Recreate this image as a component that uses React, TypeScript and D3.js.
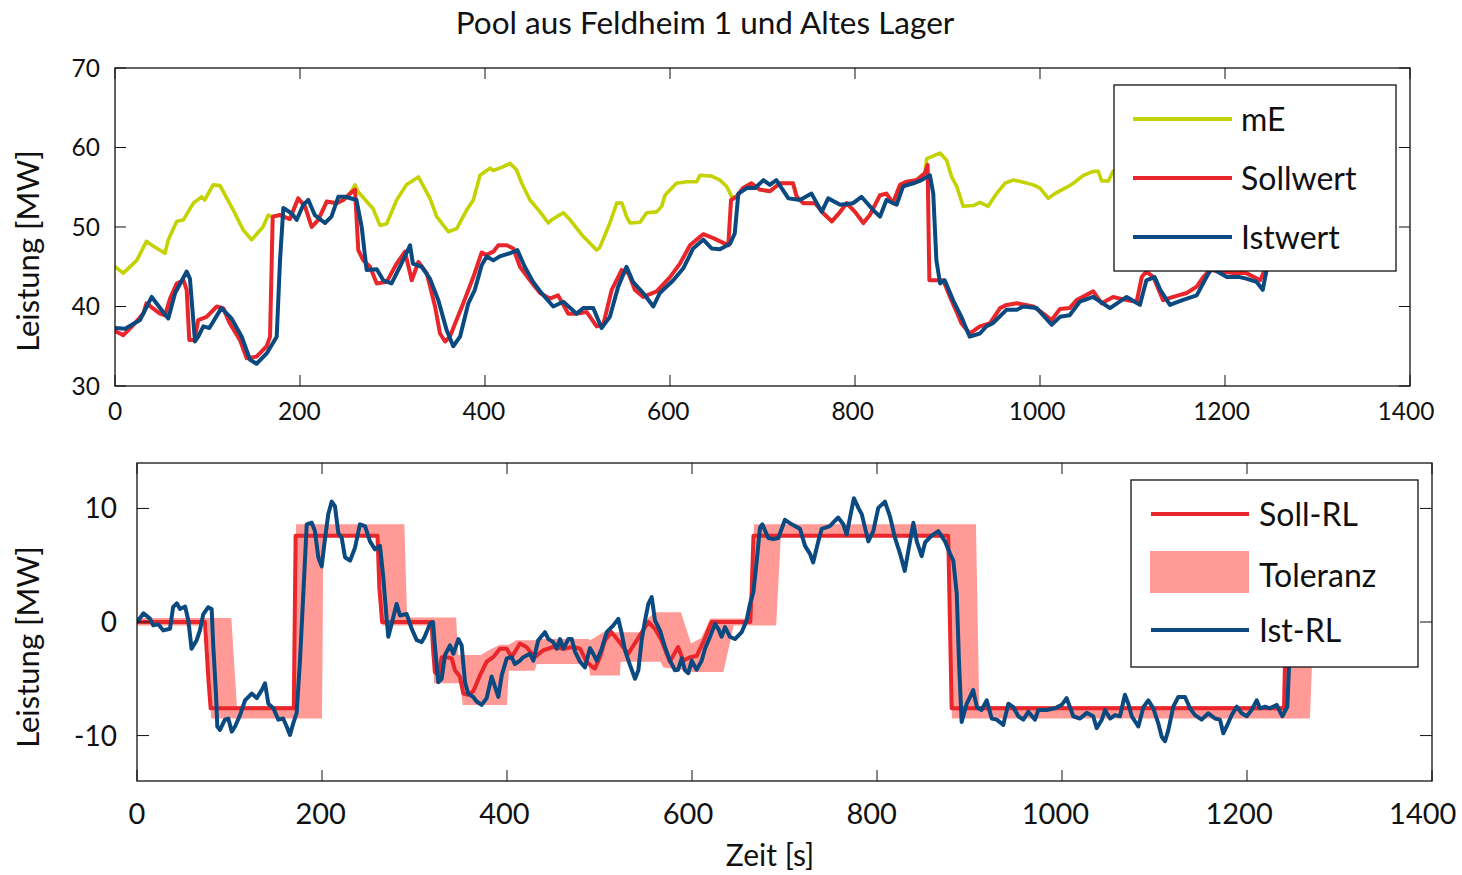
import React from 'react';
import * as d3 from 'd3';

const chartTitle = 'Pool aus Feldheim 1 und Altes Lager';
const yLabel = 'Leistung [MW]';
const xLabel = 'Zeit [s]';
const xTicks = [0, 200, 400, 600, 800, 1000, 1200, 1400];
const topYTicks = [30, 40, 50, 60, 70];
const botYTicks = [-10, 0, 10];
const topLegend = ['mE', 'Sollwert', 'Istwert'];
const botLegend = ['Soll-RL', 'Toleranz', 'Ist-RL'];

// top chart: [time s, MW]
const mE: [number, number][] = [
  [0,45.0],[9,44.2],[23.5,45.8],[34,48.2],[40,47.7],[54,46.7],[57.6,48.4],[66.7,50.7],[74,50.9],[84.7,53.0],[93.7,53.8],[97,53.4],[106,55.3],[113.5,55.2],[128,52.1],[138.7,49.6],[147.7,48.4],[160,50.0],[165.7,51.5],[170.5,51.3],[178.4,51.5],[189,51.0],[198,53.6],[205.4,52.6],[212.6,50.0],[219.8,50.9],[228.9,53.2],[239.7,53.0],[246.8,53.4],[254,54.2],[259.5,55.3],[263,54.4],[279,52.3],[286.5,50.2],[293.7,50.4],[304.5,53.4],[315,55.3],[328,56.3],[340.5,53.6],[347.8,51.3],[360.3,49.4],[369.4,49.8],[380,52.1],[387.4,53.4],[394.6,56.5],[405.4,57.4],[409,57.1],[418,57.5],[427,58.0],[434,57.2],[439.7,55.5],[448.6,53.4],[459.5,51.9],[468.5,50.5],[472,50.9],[484.7,51.8],[492,50.9],[506.3,48.8],[520.7,47.1],[524,47.4],[535,50.5],[542.4,53.0],[548,53.0],[553,51.3],[556.8,50.5],[567.6,50.6],[574.8,51.8],[585.6,51.9],[591,52.6],[594.6,54.0],[607,55.5],[618,55.7],[628.9,55.7],[632.4,56.5],[645,56.4],[654,55.9],[661.3,55.1],[666.7,53.8],[672,53.8],[679,54.9],[688,55.5],[697,54.7],[708,54.5],[719,55.5],[733,55.5],[737,53.8],[744,53.0],[757,53.0],[766,51.7],[775,50.7],[784,51.9],[791,53.0],[800,51.9],[809,50.5],[816,51.5],[827,54.0],[834,54.2],[841,53.0],[848.6,55.3],[856,55.7],[866.7,55.9],[875.7,56.8],[877.5,58.6],[892,59.3],[899,58.4],[904.5,56.3],[910,55.1],[917,52.6],[928,52.7],[935,53.1],[944,52.6],[953,54.2],[962,55.5],[971,55.9],[980,55.7],[992.8,55.3],[1000,54.9],[1009,53.6],[1016,54.2],[1030.6,55.1],[1036,55.5],[1047,56.5],[1057.6,57.0],[1063,57.0],[1066.7,55.8],[1074,55.8],[1079,57.0],[1082,57.2]
];

const sollwert: [number, number][] = [
  [0,37.0],[2,36.8],[9,36.4],[20,37.7],[30.6,39.1],[34,40.4],[48.6,39.1],[54,38.9],[59.5,41.0],[66.7,42.9],[74,43.3],[77.5,42.1],[80.3,35.8],[86,35.8],[90,38.3],[99,38.7],[110,40.0],[117,39.8],[124,37.9],[135,35.8],[142.4,33.5],[153,33.7],[164,35.0],[167.6,36.2],[170.5,51.3],[178.4,51.5],[189,51.0],[198,53.6],[205.4,52.6],[212.6,50.0],[219.8,50.9],[228.9,53.2],[239.7,53.0],[246.8,53.4],[254,54.2],[259.5,54.7],[263,47.1],[268.4,45.8],[275.7,45.0],[283,42.9],[293.7,43.1],[304.5,45.4],[313.5,46.9],[320.8,43.3],[328,45.6],[337,44.2],[346,40.0],[351.4,36.6],[356.8,35.6],[362,36.2],[376.5,40.4],[387.4,43.7],[396.4,46.8],[401.8,46.5],[409,46.9],[414.4,47.7],[423.5,47.7],[430.6,47.3],[437.8,45.0],[448.6,43.3],[459.5,41.7],[470,41.0],[479,41.4],[490,39.1],[498.4,39.1],[510,39.3],[520.7,37.5],[528,37.8],[537,42.1],[547.8,44.6],[555,44.2],[562,42.1],[571,41.2],[585.6,41.9],[600,43.7],[610.8,45.4],[621.6,47.7],[636,49.1],[646.8,48.6],[657.6,48.0],[663,47.7],[666,53.4],[672,53.8],[679,54.9],[688,55.5],[697,54.7],[708,54.5],[719,55.5],[733,55.5],[737,53.8],[744,53.0],[757,53.0],[766,51.7],[775,50.7],[784,51.9],[791,53.0],[800,51.9],[809,50.5],[816,51.5],[827,54.0],[834,54.2],[841,53.0],[848.6,55.3],[856,55.7],[866.7,55.9],[875.7,56.8],[878.5,57.8],[880.4,43.3],[895.5,43.3],[902.7,41.2],[910,39.3],[915,37.9],[924,36.6],[935,37.5],[946,37.9],[956.8,39.8],[964,40.2],[975,40.4],[992.8,40.0],[1003.6,39.1],[1012.6,38.3],[1021.6,39.7],[1032,39.8],[1039.6,40.8],[1057.6,41.9],[1066.7,40.4],[1079,41.2],[1093.7,40.8],[1104.5,40.6],[1110,43.7],[1115,44.4],[1122.5,43.7],[1133,40.8],[1144,41.2],[1158.6,41.7],[1169.4,42.5],[1176.5,43.7],[1183.8,44.6],[1209,44.2],[1223,44.2],[1238,43.3],[1243,44.6],[1246,47.0]
];

const istwert: [number, number][] = [
  [0,37.3],[11,37.2],[27,38.3],[39.7,41.2],[52,39.3],[57.6,38.5],[65,41.7],[77.5,44.4],[81,43.5],[86.5,35.6],[90,36.2],[95.5,37.5],[102,37.3],[115,39.8],[126,38.5],[137,36.2],[146,33.3],[153,32.8],[164,34.1],[174.8,36.2],[178.4,45.8],[182,52.4],[191,51.7],[196.4,50.9],[203.6,52.8],[209,53.4],[216,51.5],[227,50.5],[234,51.3],[241.4,53.8],[249,53.8],[261,53.4],[266.7,50.0],[272,44.6],[283,44.7],[290,43.3],[299,42.9],[308,45.0],[319,47.7],[322,45.4],[331.5,45.0],[340.5,43.5],[349.5,40.8],[358.6,37.0],[365.7,35.0],[373,36.2],[382,40.4],[389,42.1],[396.4,45.2],[401.8,46.3],[409,45.8],[416,46.3],[427,46.7],[435,47.1],[443,45.0],[452,43.1],[461,41.7],[473.8,40.0],[484.7,40.6],[499,39.1],[506.3,39.8],[517,39.8],[526,37.3],[535,38.7],[544,42.5],[553,45.0],[560,43.1],[571,41.7],[582,40.0],[589,41.7],[603.6,43.3],[614.4,44.8],[625,47.3],[636,48.4],[645,47.3],[654,47.2],[665,47.9],[670,49.2],[673.9,54.2],[683,54.9],[692,54.9],[701,55.9],[708,55.3],[715,55.9],[728,53.6],[740.5,53.4],[753,54.2],[764,51.9],[771,53.6],[784,52.8],[798,53.0],[807,53.8],[820,52.1],[827,51.3],[834,53.4],[845,52.8],[852,55.1],[863,55.5],[872,55.9],[881,56.5],[884.6,54.2],[888,45.8],[892,42.9],[897,43.3],[906,40.8],[915,38.7],[924,36.2],[935,36.6],[942,37.5],[949,37.9],[964,39.6],[975,39.6],[982,40.0],[996.4,39.8],[1012.6,37.7],[1021.6,38.7],[1032,38.9],[1043,40.6],[1057.6,41.2],[1075.7,39.8],[1093.7,41.2],[1108,40.2],[1115,43.3],[1124,43.7],[1130,42.1],[1140.5,40.2],[1154,40.8],[1169.4,41.4],[1180,43.7],[1185.6,44.8],[1202,43.7],[1216,43.7],[1223,43.5],[1234,43.1],[1240.8,42.1],[1245,44.6],[1248,47.0]
];

// bottom chart
const sollRL: [number, number][] = [
  [0,0],[73.5,0],[77,-4.8],[79.6,-7.6],[169.5,-7.6],[171.5,7.6],[260,7.6],[262,3.0],[265,0],[318.5,0],[320,-2.35],[322,-4.4],[326,-4.7],[329.4,-3.1],[334.8,-3.1],[340.2,-3.2],[343.8,-4.25],[349,-4.8],[352.8,-6.3],[358,-6.4],[363.6,-6.1],[370.8,-4.7],[378,-3.5],[385,-3.1],[392.4,-2.35],[399.7,-2.35],[405,-3.1],[414,-1.9],[421,-2.2],[430,-3.1],[439,-2.5],[450,-2.2],[461,-2.35],[471.7,-2.2],[479,-2.35],[486,-3.5],[493,-4.0],[495,-4.1],[500.5,-3.1],[506,-1.6],[513,-0.9],[522,-1.8],[531,-2.8],[538,-1.9],[547,-0.75],[552.8,0],[560,-0.6],[567,-1.6],[576,-3.5],[585,-2.2],[590.6,-3.4],[597.8,-3.1],[605,-3.0],[612,-1.8],[621,0],[663,0],[664.5,2.8],[666.5,7.6],[877,7.6],[880.7,-7.6],[1240,-7.6],[1242,0],[1250,0]
];

const istRL: [number, number][] = [
  [0,0],[7,0.77],[14,0.3],[17.6,-0.3],[23,-0.2],[28.5,-0.74],[35.7,-0.6],[39,1.3],[43,1.65],[46.5,1.15],[52,1.36],[55.5,0.13],[59,-2.35],[64.5,-1.6],[68,-0.74],[71.7,0.7],[77,1.3],[80.7,1.15],[82.5,-2.2],[85.4,-6.3],[86.8,-9.2],[89.7,-9.5],[95,-8.6],[98.7,-8.5],[102.4,-9.65],[106,-9.2],[111.4,-8.2],[116.8,-6.9],[124,-6.3],[129.4,-6.7],[134.8,-6.0],[138.4,-5.4],[142,-7.2],[147.4,-7.6],[152.8,-8.6],[158,-8.5],[161.8,-9.2],[165.4,-9.94],[169,-8.9],[172.6,-8.0],[176.2,-3.4],[179.8,2.5],[183.5,8.6],[188.9,8.74],[192.4,8.0],[196,5.7],[199.7,4.9],[203.2,7.3],[206.8,9.5],[210.5,10.6],[214,10.2],[217.6,7.86],[221.3,7.4],[224.9,5.7],[230.3,5.4],[235.7,6.55],[241,8.6],[246.5,8.45],[251.9,7.1],[257.3,6.4],[262.7,6.7],[266.3,3.9],[270,0.13],[271.7,-1.3],[275.3,-0.16],[280.7,1.6],[284.3,0.57],[291.6,0.7],[297,-0.6],[302.4,-1.6],[307.8,-1.77],[311,-1.3],[316.8,-0.16],[320,0],[322,-2.06],[325.7,-5.3],[329.4,-5.0],[333,-2.9],[338.4,-2.06],[342,-2.8],[347.4,-1.5],[351,-2.06],[354.6,-5.3],[358,-6.3],[363.6,-6.6],[367.2,-7.0],[372.6,-7.3],[378,-6.7],[383.4,-4.8],[387,-5.7],[390.6,-6.6],[394.3,-4.7],[399.7,-3.2],[405,-3.1],[408.6,-3.7],[414,-3.4],[417.6,-3.1],[424.9,-2.8],[428.5,-3.4],[433.8,-1.6],[441,-0.9],[444.7,-1.5],[450,-1.77],[453.7,-2.35],[457.3,-1.5],[461,-2.35],[466.3,-1.5],[470,-1.5],[473.5,-2.6],[479,-3.5],[484.3,-4.0],[489.7,-2.3],[493.3,-2.8],[497,-3.4],[502.4,-2.35],[507.8,-0.9],[515,-0.3],[520.3,0.28],[524,-1.0],[527.6,-2.5],[533,-3.8],[538.4,-5.0],[542,-4.25],[545.6,-1.6],[549.2,0.13],[552.8,1.6],[556.4,2.2],[560,0.13],[565.4,-0.74],[570.8,-2.2],[576.2,-3.4],[581.6,-4.25],[585,-4.2],[588.9,-3.2],[592.4,-4.25],[596,-4.5],[599.7,-3.4],[605,-4.2],[610.5,-3.4],[614,-2.35],[619.5,-1.3],[624.9,-0.16],[628.4,-0.6],[632,-1.3],[635.7,-0.45],[641,-1.3],[646.5,-1.5],[653.7,-0.9],[659,0.13],[662.7,1.6],[666.3,2.6],[670,5.4],[673.5,8.3],[676,8.6],[682.5,7.4],[688,7.3],[693.3,7.4],[700.5,9.0],[707.8,8.6],[716.8,8.2],[722.2,6.7],[727.6,6.0],[731,5.24],[736.5,7.1],[740.2,8.2],[749,8.45],[758,9.2],[763.6,8.6],[767.2,7.7],[770.8,9.2],[775,10.9],[779.8,10.05],[783.5,9.5],[790.6,7.1],[796,8.0],[801.4,10.05],[808.6,10.6],[814,9.3],[819.5,7.4],[825,6.0],[830,4.5],[835.7,7.1],[839.3,8.74],[843,7.1],[848.3,5.8],[852,7.0],[859,7.6],[866.3,8.0],[873.5,7.1],[879,6.0],[882.5,5.4],[886.2,2.5],[888.6,-3.4],[891.5,-8.8],[897,-7.2],[904,-6.0],[908,-7.5],[913,-7.75],[918.6,-6.9],[924,-8.5],[929.4,-8.6],[936.5,-9.06],[942,-7.2],[947.4,-7.5],[952.8,-8.3],[958.2,-8.6],[963.6,-7.9],[970.8,-8.6],[974.4,-7.75],[983.5,-7.75],[992.4,-7.6],[999.7,-7.3],[1005,-6.7],[1012.2,-8.3],[1019.5,-8.5],[1026.7,-8.0],[1033.8,-8.3],[1037.5,-9.35],[1043,-8.6],[1046.5,-7.75],[1052,-8.5],[1057.3,-8.2],[1062.7,-8.3],[1068,-6.4],[1071.7,-7.2],[1075.4,-8.3],[1082.5,-9.2],[1088,-7.5],[1093.3,-6.9],[1098.7,-7.6],[1104,-8.9],[1107.8,-10.1],[1111.4,-10.5],[1115,-9.5],[1120.3,-7.46],[1125.7,-6.6],[1133,-6.6],[1138.4,-7.6],[1143.8,-8.2],[1151,-8.6],[1158.2,-8.04],[1165.4,-8.5],[1170.8,-8.6],[1174.4,-9.8],[1178,-9.2],[1183.4,-8.2],[1188.9,-7.46],[1194.3,-8.04],[1199.7,-8.3],[1205,-7.75],[1210.5,-6.9],[1214,-7.6],[1219.5,-7.46],[1225,-7.6],[1232,-7.3],[1238.2,-8.3],[1243.6,-7.46],[1245.4,-3.96],[1248,0]
];

// tolerance band: [time, lower, upper]
const toleranz: [number, number, number][] = [
  [0,-0.3,0.35],[76,-0.3,0.35],[80,-8.5,0.35],[102,-8.5,0.35],[108,-8.5,-7.4],[169,-8.5,-7.4],[172,-8.5,8.6],[200,-8.5,8.6],[201.5,7.5,8.6],[259,7.5,8.6],[265,-0.3,8.6],[289,-0.3,8.6],[292,-0.3,0.4],[319,-0.3,0.4],[321,-5.4,0.4],[345,-5.4,0.4],[347,-5.4,-2.9],[350,-5.4,-2.9],[352,-7.3,-2.9],[372,-7.3,-2.9],[378,-7.3,-2.6],[392,-7.3,-2.0],[400,-7.3,-2.0],[402,-4.3,-2.0],[410,-4.3,-1.6],[430,-4.3,-1.6],[432,-3.7,-1.5],[488,-3.7,-1.5],[490,-4.7,-1.6],[504,-4.7,-0.9],[522,-4.7,-0.9],[523,-3.5,-0.9],[548,-3.5,-0.9],[552,-3.5,0.3],[560,-3.5,0.85],[566,-3.5,0.85],[569,-4.0,0.85],[588,-4.2,0.85],[599,-4.4,-1.9],[610,-4.4,-1.4],[620,-4.4,0.3],[634,-4.4,0.3],[645,-0.3,0.3],[663,-0.3,0.3],[667,-0.3,8.6],[691,-0.3,8.6],[696,7.5,8.6],[877,7.5,8.6],[881,-8.5,8.6],[907,-8.5,8.6],[910.5,-8.5,-7.4],[1240,-8.5,-7.4],[1242,-8.5,0.4],[1268,-8.5,0.4],[1272,-0.3,0.4]
];

const C_ME = '#c4d300';
const C_SOLL = '#e8262b';
const C_IST = '#0b4a80';
const C_TOL = '#ff9a96';
const FONT = "Lato, 'Open Sans', sans-serif";

export default function App() {
  const W = 1462, H = 875;
  const T = { l: 115, r: 1410, t: 68, b: 386 };
  const B = { l: 137, r: 1432, t: 463, b: 781 };
  const x1 = d3.scaleLinear().domain([0, 1400]).range([T.l, T.r]);
  const y1 = d3.scaleLinear().domain([30, 70]).range([T.b, T.t]);
  const x2 = d3.scaleLinear().domain([0, 1400]).range([B.l, B.r]);
  const y2 = d3.scaleLinear().domain([-14, 14]).range([B.b, B.t]);

  const line1 = d3.line<[number, number]>().x(d => x1(d[0])).y(d => y1(d[1]));
  const line2 = d3.line<[number, number]>().x(d => x2(d[0])).y(d => y2(d[1]));
  const band = d3.area<[number, number, number]>().x(d => x2(d[0])).y0(d => y2(d[1])).y1(d => y2(d[2]));

  const tick = 11;
  const lineProps = { fill: 'none', strokeWidth: 4, strokeLinejoin: 'round' as const, strokeLinecap: 'round' as const };

  return (
    <svg width={W} height={H} style={{ position: 'absolute', left: 0, top: 0, background: '#fff' }} fontFamily={FONT}>
      <defs>
        <clipPath id="clipT"><rect x={T.l} y={T.t} width={T.r - T.l} height={T.b - T.t} /></clipPath>
        <clipPath id="clipB"><rect x={B.l} y={B.t} width={B.r - B.l} height={B.b - B.t} /></clipPath>
      </defs>
      <rect width={W} height={H} fill="#fff" />
      <text x={705} y={34} textAnchor="middle" fontSize={31.5} fill="#111">{chartTitle}</text>

      {/* TOP CHART */}
      <g clipPath="url(#clipT)">
        <path d={line1(mE) || ''} stroke={C_ME} {...lineProps} strokeWidth={3.6} />
        <path d={line1(sollwert) || ''} stroke={C_SOLL} {...lineProps} />
        <path d={line1(istwert) || ''} stroke={C_IST} {...lineProps} />
      </g>
      <rect x={T.l} y={T.t} width={T.r - T.l} height={T.b - T.t} fill="none" stroke="#111" strokeWidth={1.3} />
      {xTicks.map(t => (
        <g key={'tx' + t}>
          <line x1={x1(t)} x2={x1(t)} y1={T.b} y2={T.b - tick} stroke="#111" strokeWidth={1} />
          <line x1={x1(t)} x2={x1(t)} y1={T.t} y2={T.t + tick} stroke="#111" strokeWidth={1} />
          <text x={x1(t) - t / 350} y={420} textAnchor="middle" fontSize={24.5} fill="#111">{t}</text>
        </g>
      ))}
      {topYTicks.map(v => (
        <g key={'ty' + v}>
          <line x1={T.l} x2={T.l + tick} y1={y1(v)} y2={y1(v)} stroke="#111" strokeWidth={1} />
          <line x1={T.r} x2={T.r - tick} y1={y1(v)} y2={y1(v)} stroke="#111" strokeWidth={1} />
          <text x={100} y={y1(v) + 8.5} textAnchor="end" fontSize={24.5} fill="#111">{v}</text>
        </g>
      ))}
      <text transform={`translate(39,251) rotate(-90)`} textAnchor="middle" fontSize={31} fill="#111">{yLabel}</text>

      {/* top legend */}
      <rect x={1114} y={85} width={282} height={186} fill="#fff" stroke="#111" strokeWidth={1.3} />
      {topLegend.map((name, i) => {
        const yy = [119, 178, 237][i];
        const col = [C_ME, C_SOLL, C_IST][i];
        return (
          <g key={name}>
            <line x1={1133} x2={1232} y1={yy} y2={yy} stroke={col} strokeWidth={4} />
            <text x={1241} y={yy + 11.5} fontSize={32} fill="#111">{name}</text>
          </g>
        );
      })}

      {/* BOTTOM CHART */}
      <g clipPath="url(#clipB)">
        <path d={band(toleranz) || ''} fill={C_TOL} stroke="none" />
        <path d={line2(sollRL) || ''} stroke={C_SOLL} {...lineProps} />
        <path d={line2(istRL) || ''} stroke={C_IST} {...lineProps} />
      </g>
      <rect x={B.l} y={B.t} width={B.r - B.l} height={B.b - B.t} fill="none" stroke="#111" strokeWidth={1.3} />
      {xTicks.map(t => (
        <g key={'bx' + t}>
          <line x1={x2(t)} x2={x2(t)} y1={B.b} y2={B.b - tick} stroke="#111" strokeWidth={1} />
          <line x1={x2(t)} x2={x2(t)} y1={B.t} y2={B.t + tick} stroke="#111" strokeWidth={1} />
          <text x={x2(t) - t * 0.0066} y={824} textAnchor="middle" fontSize={29} fill="#111">{t}</text>
        </g>
      ))}
      {botYTicks.map(v => (
        <g key={'by' + v}>
          <line x1={B.l} x2={B.l + 12} y1={y2(v)} y2={y2(v)} stroke="#111" strokeWidth={1} />
          <line x1={B.r} x2={B.r - 12} y1={y2(v)} y2={y2(v)} stroke="#111" strokeWidth={1} />
          <text x={117} y={y2(v) + 10} textAnchor="end" fontSize={28} fill="#111">{v}</text>
        </g>
      ))}
      <text transform={`translate(39,647) rotate(-90)`} textAnchor="middle" fontSize={31} fill="#111">{yLabel}</text>
      <text x={770} y={866} textAnchor="middle" fontSize={30} fill="#111">{xLabel}</text>

      {/* bottom legend */}
      <rect x={1131} y={480} width={287} height={187} fill="#fff" stroke="#111" strokeWidth={1.3} />
      <line x1={1151} x2={1249} y1={514} y2={514} stroke={C_SOLL} strokeWidth={4} />
      <text x={1259} y={525.5} fontSize={32} fill="#111">{botLegend[0]}</text>
      <rect x={1150} y={551} width={99} height={42} fill={C_TOL} />
      <text x={1259} y={587} fontSize={32} fill="#111">{botLegend[1]}</text>
      <line x1={1151} x2={1249} y1={630} y2={630} stroke={C_IST} strokeWidth={4} />
      <text x={1259} y={641.5} fontSize={32} fill="#111">{botLegend[2]}</text>
    </svg>
  );
}
